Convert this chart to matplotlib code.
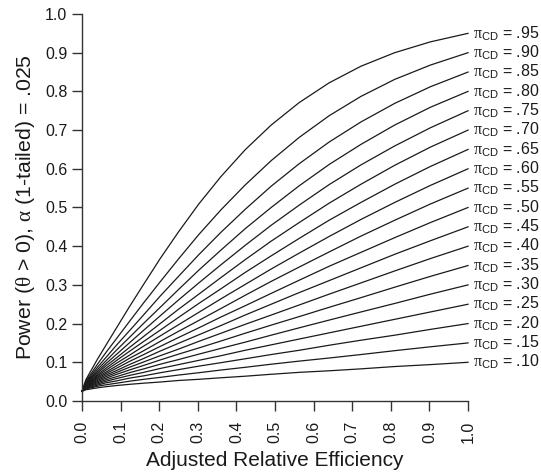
import numpy as np
import matplotlib
matplotlib.use("Agg")
import matplotlib.pyplot as plt

plt.rcParams['font.family'] = ['Liberation Sans', 'DejaVu Sans']
plt.rcParams['mathtext.fontset'] = 'custom'
plt.rcParams['mathtext.rm'] = 'Liberation Sans'
plt.rcParams['mathtext.it'] = 'Liberation Serif'

# adjusted relative efficiency (x) values at which the curves were read
are = [0.0, 0.01, 0.04, 0.0625, 0.09, 0.1225, 0.16, 0.2025, 0.25, 0.3025,
       0.36, 0.4225, 0.49, 0.5625, 0.64, 0.7225, 0.81, 0.9025, 1.0]

# power, keyed by pi_CD label
pi_labels = ['.95', '.90', '.85', '.80', '.75', '.70', '.65', '.60', '.55',
             '.50', '.45', '.40', '.35', '.30', '.25', '.20', '.15', '.10']
power_95 = [0.025, 0.055, 0.108, 0.145, 0.190, 0.243, 0.302, 0.368, 0.437, 0.509,
            0.580, 0.649, 0.713, 0.771, 0.822, 0.865, 0.900, 0.928, 0.950]
power_90 = [0.025, 0.051, 0.095, 0.126, 0.162, 0.205, 0.254, 0.308, 0.367, 0.430,
            0.494, 0.558, 0.621, 0.681, 0.737, 0.787, 0.831, 0.868, 0.900]
power_85 = [0.025, 0.049, 0.087, 0.113, 0.145, 0.181, 0.223, 0.271, 0.322, 0.378,
            0.436, 0.495, 0.555, 0.613, 0.669, 0.721, 0.769, 0.812, 0.850]
power_80 = [0.025, 0.047, 0.081, 0.104, 0.132, 0.164, 0.201, 0.242, 0.288, 0.338,
            0.390, 0.445, 0.500, 0.556, 0.611, 0.663, 0.713, 0.759, 0.800]
power_75 = [0.025, 0.045, 0.076, 0.097, 0.121, 0.150, 0.183, 0.220, 0.261, 0.305,
            0.352, 0.402, 0.454, 0.506, 0.559, 0.610, 0.659, 0.706, 0.750]
power_70 = [0.025, 0.044, 0.072, 0.091, 0.112, 0.138, 0.167, 0.200, 0.237, 0.276,
            0.319, 0.365, 0.413, 0.461, 0.511, 0.560, 0.609, 0.656, 0.700]
power_65 = [0.025, 0.042, 0.068, 0.085, 0.105, 0.128, 0.154, 0.183, 0.216, 0.252,
            0.290, 0.332, 0.375, 0.420, 0.467, 0.513, 0.560, 0.606, 0.650]
power_60 = [0.025, 0.041, 0.065, 0.080, 0.098, 0.118, 0.142, 0.168, 0.197, 0.229,
            0.264, 0.301, 0.341, 0.382, 0.425, 0.469, 0.513, 0.557, 0.600]
power_55 = [0.025, 0.040, 0.062, 0.075, 0.091, 0.110, 0.130, 0.154, 0.180, 0.208,
            0.239, 0.273, 0.309, 0.346, 0.385, 0.426, 0.467, 0.509, 0.550]
power_50 = [0.025, 0.039, 0.059, 0.071, 0.085, 0.102, 0.120, 0.141, 0.164, 0.189,
            0.217, 0.246, 0.278, 0.312, 0.348, 0.384, 0.422, 0.461, 0.500]
power_45 = [0.025, 0.038, 0.056, 0.067, 0.079, 0.094, 0.110, 0.129, 0.149, 0.171,
            0.195, 0.222, 0.250, 0.280, 0.311, 0.344, 0.379, 0.414, 0.450]
power_40 = [0.025, 0.037, 0.053, 0.063, 0.074, 0.087, 0.101, 0.117, 0.134, 0.154,
            0.175, 0.198, 0.222, 0.248, 0.276, 0.305, 0.336, 0.368, 0.400]
power_35 = [0.025, 0.036, 0.050, 0.059, 0.069, 0.080, 0.092, 0.106, 0.121, 0.137,
            0.155, 0.175, 0.196, 0.218, 0.242, 0.267, 0.294, 0.322, 0.350]
power_30 = [0.025, 0.035, 0.047, 0.055, 0.063, 0.073, 0.083, 0.095, 0.107, 0.121,
            0.136, 0.152, 0.170, 0.189, 0.209, 0.230, 0.252, 0.276, 0.300]
power_25 = [0.025, 0.034, 0.044, 0.051, 0.058, 0.066, 0.074, 0.084, 0.094, 0.105,
            0.117, 0.131, 0.145, 0.160, 0.176, 0.193, 0.211, 0.230, 0.250]
power_20 = [0.025, 0.032, 0.041, 0.047, 0.052, 0.059, 0.065, 0.073, 0.081, 0.090,
            0.099, 0.109, 0.120, 0.131, 0.144, 0.157, 0.170, 0.185, 0.200]
power_15 = [0.025, 0.031, 0.038, 0.042, 0.046, 0.051, 0.056, 0.061, 0.067, 0.073,
            0.080, 0.087, 0.095, 0.103, 0.111, 0.120, 0.130, 0.140, 0.150]
power_10 = [0.025, 0.029, 0.034, 0.037, 0.040, 0.043, 0.046, 0.049, 0.053, 0.056,
            0.060, 0.064, 0.069, 0.074, 0.078, 0.083, 0.089, 0.094, 0.100]

curves = [power_95, power_90, power_85, power_80, power_75, power_70,
          power_65, power_60, power_55, power_50, power_45, power_40,
          power_35, power_30, power_25, power_20, power_15, power_10]

ink = '#1a1a1a'

fig = plt.figure(figsize=(5.41, 4.76), dpi=100)
ax = fig.add_axes([0.1516, 0.1576, 0.7135, 0.813])

for lab, pw in zip(pi_labels, curves):
    ax.plot(are, pw, color=ink, lw=0.9, clip_on=False, solid_joinstyle='round')
    ax.text(1.012, pw[-1], r'$\pi_{\mathrm{CD}}$ = ' + lab, fontsize=11.5,
            ha='left', va='center', color=ink, clip_on=False)

ax.set_xlim(0, 1)
ax.set_ylim(0, 1)
ticks = np.round(np.arange(0, 1.01, 0.1), 1)
ax.set_xticks(ticks)
ax.set_yticks(ticks)
ax.set_xticklabels(['%.1f' % t for t in ticks], rotation=90)
ax.set_yticklabels(['%.1f' % t for t in ticks])

for s in ['top', 'right']:
    ax.spines[s].set_visible(False)
for s in ['left', 'bottom']:
    ax.spines[s].set_color('#333333')
    ax.spines[s].set_linewidth(1.0)
ax.tick_params(direction='out', length=7, width=1.0, colors='#333333',
               labelsize=11.5, labelcolor=ink)
ax.tick_params(axis='x', pad=7)
ax.tick_params(axis='y', pad=3.5)

ax.set_xlabel('Adjusted Relative Efficiency', fontsize=15, color=ink, labelpad=6)
ax.set_ylabel(r'Power ($\theta$ > 0), $\alpha$ (1-tailed) = .025', fontsize=15.3,
              color=ink, labelpad=6)

fig.savefig('out.png', dpi=100)
